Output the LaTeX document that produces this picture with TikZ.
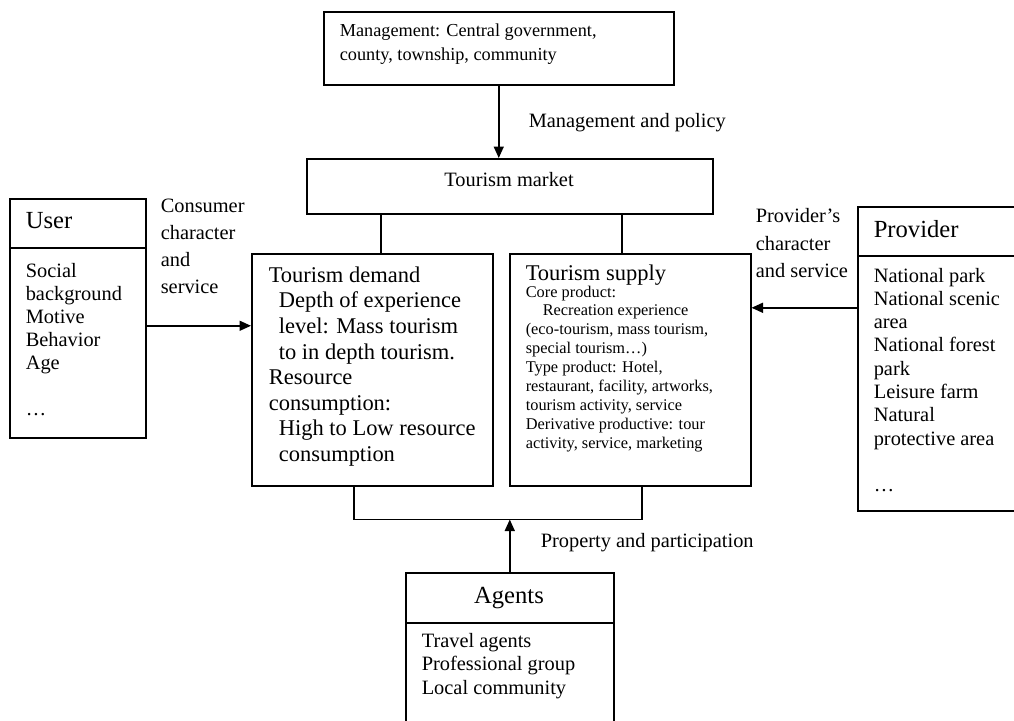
\documentclass[tikz,border=0pt]{standalone}
\usepackage{fontspec}
\setmainfont{Liberation Serif}
\usepackage{tikz}
\usetikzlibrary{arrows.meta,calc}

\newcommand{\mainsize}{\fontsize{11.6}{13.1}\selectfont}
\newcommand{\mgmtsize}{\fontsize{10.4}{13.1}\selectfont}
\newcommand{\titlesize}{\fontsize{14}{16}\selectfont}
\newcommand{\demandsize}{\fontsize{12.8}{14.6}\selectfont}
\newcommand{\smallsize}{\fontsize{9.3}{10.8}\selectfont}
\newcommand{\lblsize}{\fontsize{11.6}{15.4}\selectfont}
\newcommand{\provsize}{\fontsize{11.6}{13.25}\selectfont}

\begin{document}
\begin{tikzpicture}[x=0.02cm, y=-0.02cm, line width=0.9pt,
    boxed/.style={draw, anchor=north west, inner sep=0pt},
    txt/.style={anchor=base west, inner sep=0pt, align=left},
    >={Triangle[length=0.23cm, width=0.2cm]}]
    \useasboundingbox (0,0) rectangle (1014,720);

    % management (multi-line texts sit on their last baseline)
    \node[boxed, minimum width=7cm, minimum height=1.46cm] (mgmt) at (323,11) {};
    \node[txt, font=\mgmtsize] (mgmttext) at (339,60)
      {Management: Central government,\\county, township, community};

    % market
    \node[boxed, minimum width=8.12cm, minimum height=1.1cm] (market) at (306,158) {};
    \node[txt, anchor=base, font=\mainsize] (markettext) at (509,186) {Tourism market};

    % demand and supply
    \node[boxed, minimum width=4.82cm, minimum height=4.64cm] (demand) at (251,253) {};
    \node[txt, font=\demandsize] (demandtext) at (268,461.6)
      {Tourism demand\\
       \hspace*{0.2cm}Depth of experience\\
       \hspace*{0.2cm}level: Mass tourism\\
       \hspace*{0.2cm}to in depth tourism.\\
       Resource\\
       consumption:\\
       \hspace*{0.2cm}High to Low resource\\
       \hspace*{0.2cm}consumption};

    \node[boxed, minimum width=4.82cm, minimum height=4.64cm] (supply) at (509,253) {};
    \node[txt, font=\demandsize] (supplytitle) at (525,280) {Tourism supply};
    \node[txt, font=\smallsize] (supplytext) at (525,448.8)
      {Core product:\\
       \hspace*{0.34cm}Recreation experience\\
       (eco-tourism, mass tourism,\\
       special tourism…)\\
       Type product: Hotel,\\
       restaurant, facility, artworks,\\
       tourism activity, service\\
       Derivative productive: tour\\
       activity, service, marketing};

    % user
    \node[boxed, minimum width=2.72cm, minimum height=0.98cm] (usertitle) at (9,198) {};
    \node[boxed, minimum width=2.72cm, minimum height=3.8cm] (userbody) at (9,247) {};
    \node[txt, font=\titlesize] (userhead) at (25,228) {User};
    \node[txt, font=\mainsize] (useritems) at (25,415.1)
      {Social\\background\\Motive\\Behavior\\Age\\\mbox{}\\…};

    % provider
    \node[boxed, minimum width=3.18cm, minimum height=0.98cm] (provtitle) at (857,206) {};
    \node[boxed, minimum width=3.18cm, minimum height=5.1cm] (provbody) at (857,255) {};
    \node[txt, font=\titlesize] (provhead) at (873,237) {Provider};
    \node[txt, font=\provsize] (provitems) at (873,491.6)
      {National park\\National scenic\\area\\National forest\\park\\Leisure farm\\Natural\\protective area\\\mbox{}\\…};

    % agents
    \node[boxed, minimum width=4.16cm, minimum height=1cm] (agenttitle) at (405,572) {};
    \node[boxed, minimum width=4.16cm, minimum height=2.3cm] (agentbody) at (405,622) {};
    \node[txt, anchor=base, font=\titlesize] (agenthead) at (509,603) {Agents};
    \node[txt, font=\mainsize] (agentitems) at (421,694)
      {Travel agents\\Professional group\\Local community};

    % labels of the connectors
    \node[txt, font=\mainsize] (policylbl) at (528,127) {Management and policy};
    \node[txt, font=\lblsize] (consumerlbl) at (160,293.2) {Consumer\\character\\and\\service};
    \node[txt, font=\lblsize] (providerlbl) at (755,277.1) {Provider’s\\character\\and service};
    \node[txt, font=\mainsize] (propertylbl) at (540,547) {Property and participation};

    % connectors
    \draw[->] (mgmt.south) -- (mgmt.south |- market.north);
    \draw ([xshift=0.17cm]demand.north) -- ([xshift=0.17cm]demand.north |- market.south);
    \draw ([xshift=-0.17cm]supply.north) -- ([xshift=-0.17cm]supply.north |- market.south);
    \coordinate (merge) at ([xshift=-0.37cm, yshift=-0.66cm]demand.south);
    \draw ([xshift=-0.37cm]demand.south) -- (merge) -| ([xshift=0.23cm]supply.south);
    \draw[->] (agenttitle.north) -- (agenttitle.north |- merge);
    \draw[->] ([yshift=0.34cm]userbody.east) -- ([yshift=0.34cm]userbody.east -| demand.west);
    \draw[->] ([yshift=1.51cm]provbody.west) -- ([yshift=1.51cm]provbody.west -| supply.east);
\end{tikzpicture}
\end{document}
